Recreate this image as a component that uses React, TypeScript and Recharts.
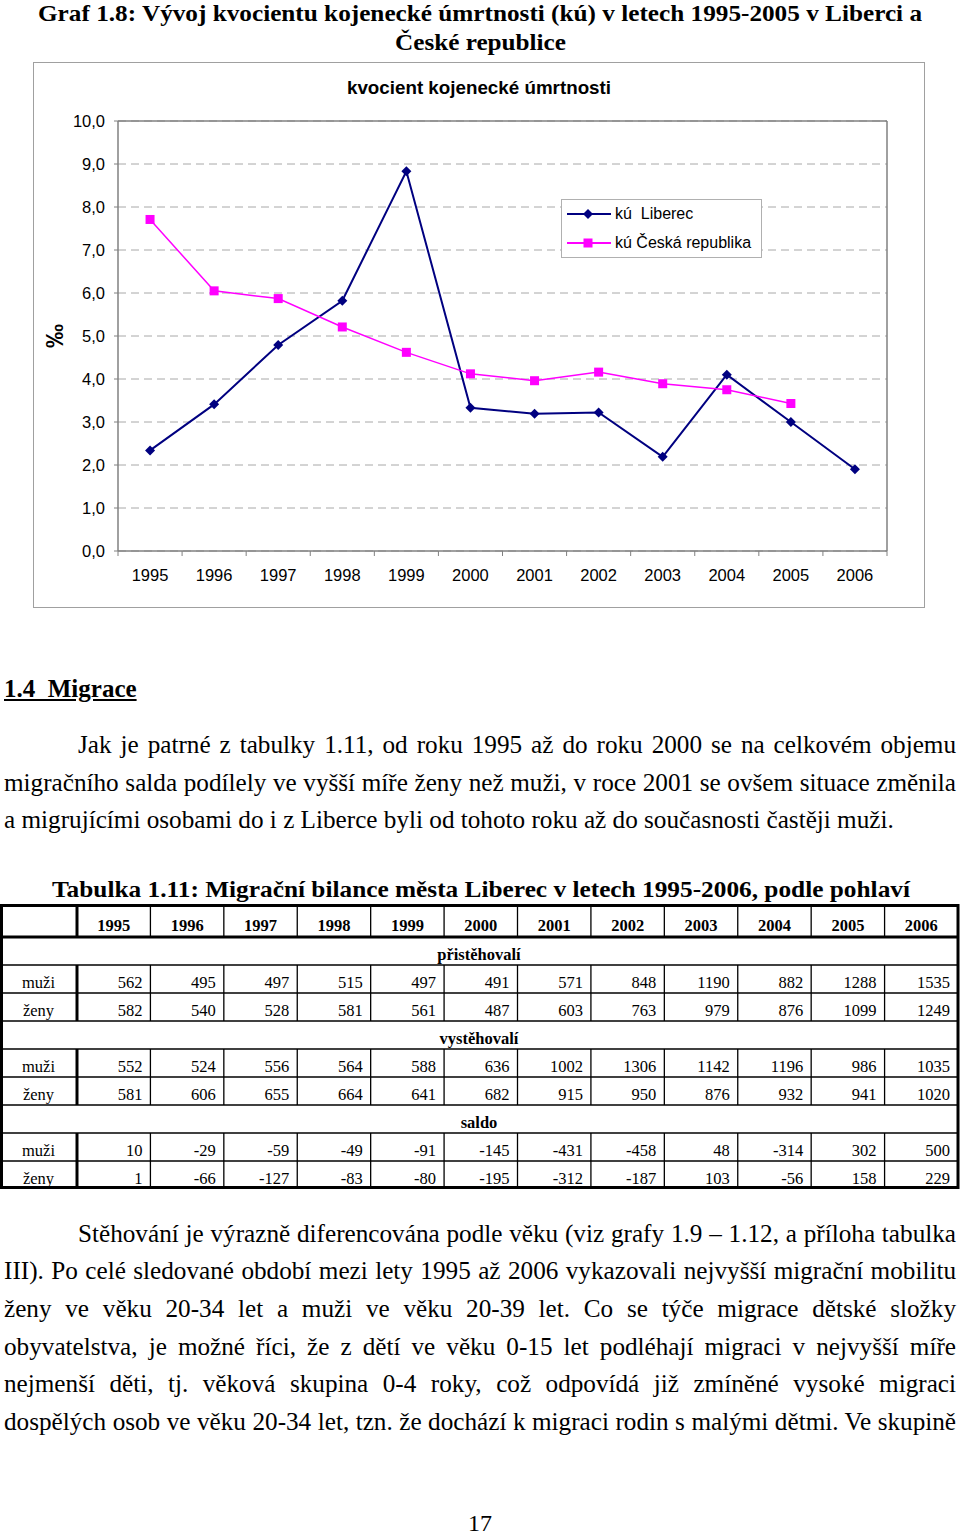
import React from "react";
import {
  LineChart,
  Line,
  XAxis,
  YAxis,
  CartesianGrid,
  Legend,
  ReferenceLine,
} from "recharts";

// --- chart data (kvocient kojenecké úmrtnosti, ‰) ---
const years = [1995, 1996, 1997, 1998, 1999, 2000, 2001, 2002, 2003, 2004, 2005, 2006];
const kuLiberec = [2.34, 3.41, 4.79, 5.82, 8.83, 3.33, 3.19, 3.22, 2.19, 4.1, 3.0, 1.9];
const kuCR = [7.71, 6.05, 5.87, 5.21, 4.62, 4.12, 3.96, 4.16, 3.89, 3.75, 3.43, null];
const yTicks = [0, 1, 2, 3, 4, 5, 6, 7, 8, 9, 10];

// --- table data (Tabulka 1.11) ---
const rowLabels = ["muži", "ženy"];
const sectionLabels = ["přistěhovalí", "vystěhovalí", "saldo"];
const pristMuzi = [562, 495, 497, 515, 497, 491, 571, 848, 1190, 882, 1288, 1535];
const pristZeny = [582, 540, 528, 581, 561, 487, 603, 763, 979, 876, 1099, 1249];
const vystMuzi = [552, 524, 556, 564, 588, 636, 1002, 1306, 1142, 1196, 986, 1035];
const vystZeny = [581, 606, 655, 664, 641, 682, 915, 950, 876, 932, 941, 1020];
const saldoMuzi = [10, -29, -59, -49, -91, -145, -431, -458, 48, -314, 302, 500];
const saldoZeny = [1, -66, -127, -83, -80, -195, -312, -187, 103, -56, 158, 229];

// --- page text ---
const heading = [
  "Graf 1.8: Vývoj kvocientu kojenecké úmrtnosti (kú) v letech 1995-2005 v Liberci a",
  "České republice",
];
const para1 = [
  "Jak je patrné z tabulky 1.11, od roku 1995 až do roku 2000 se na celkovém objemu",
  "migračního salda podílely ve vyšší míře ženy než muži, v roce 2001 se ovšem situace změnila",
  "a migrujícími osobami do i z Liberce byli od tohoto roku až do současnosti častěji muži.",
];
const para2 = [
  "Stěhování je výrazně diferencována podle věku (viz grafy 1.9 – 1.12, a příloha tabulka",
  "III). Po celé sledované období mezi lety 1995 až 2006 vykazovali nejvyšší migrační mobilitu",
  "ženy ve věku 20-34 let a muži ve věku 20-39 let. Co se týče migrace dětské složky",
  "obyvatelstva, je možné říci, že z dětí ve věku 0-15 let podléhají migraci v nejvyšší míře",
  "nejmenší děti, tj. věková skupina 0-4 roky, což odpovídá již zmíněné vysoké migraci",
  "dospělých osob ve věku 20-34 let, tzn. že dochází k migraci rodin s malými dětmi. Ve skupině",
];

const SERIF = '"Liberation Serif", "Times New Roman", serif';
const SANS = '"Liberation Sans", Arial, sans-serif';

const CHART_W = 892;
const CHART_H = 546;
const MARGIN = { top: 59, right: 38, left: 0, bottom: 0 };
const Y_W = 85;
const X_H = 57;
const BAND = (CHART_W - Y_W - MARGIN.right) / years.length;

const LIB_COLOR = "#000080";
const CR_COLOR = "#FF00FF";

const chartData = years.map((y, i) => ({ year: y, liberec: kuLiberec[i], cr: kuCR[i] }));

function YearTick(props: any) {
  const { x, y, payload, index } = props;
  const half = BAND / 2;
  return (
    <g>
      <line x1={x - half} x2={x - half} y1={y} y2={y + 5} stroke="#808080" />
      {index === years.length - 1 && (
        <line x1={x + half} x2={x + half} y1={y} y2={y + 5} stroke="#808080" />
      )}
      <text x={x} y={y + 30} textAnchor="middle" fontSize={16.5} fontFamily={SANS} fill="#000">
        {payload.value}
      </text>
    </g>
  );
}

function Diamond({ cx, cy }: any) {
  if (cx == null || cy == null) return null;
  const r = 5;
  return <path d={`M${cx},${cy - r}L${cx + r},${cy}L${cx},${cy + r}L${cx - r},${cy}Z`} fill={LIB_COLOR} />;
}

function Square({ cx, cy }: any) {
  if (cx == null || cy == null) return null;
  const s = 4.5;
  return <rect x={cx - s} y={cy - s} width={s * 2} height={s * 2} fill={CR_COLOR} />;
}

function KuLegend({ payload }: any) {
  const items = payload || [];
  return (
    <div
      style={{
        width: 201,
        height: 59,
        border: "1px solid #b0b0b0",
        boxSizing: "border-box",
        background: "#fff",
        position: "relative",
        fontFamily: SANS,
        fontSize: 16,
      }}
    >
      {items.map((it: any, i: number) => (
        <div key={it.value} style={{ position: "absolute", left: 0, top: 4 + i * 29.5, height: 20, width: 199 }}>
          <svg width={52} height={20} style={{ position: "absolute", left: 0, top: 0 }}>
            <line x1={5} x2={49} y1={10} y2={10} stroke={it.color} strokeWidth={2} />
            {it.dataKey === "liberec" ? <Diamond cx={26} cy={10} /> : <Square cx={26} cy={10} />}
          </svg>
          <span style={{ position: "absolute", left: 53, top: 0, lineHeight: "20px", whiteSpace: "pre" }}>
            {it.value}
          </span>
        </div>
      ))}
    </div>
  );
}

const BODY_FS = 25.2;

function TextLine({ left, width, baseline, text, justify }: any) {
  const fs = BODY_FS;
  return (
    <div
      style={{
        position: "absolute",
        left,
        top: baseline - 0.8375 * fs,
        width,
        fontFamily: SERIF,
        fontSize: fs,
        lineHeight: fs + "px",
        whiteSpace: "nowrap",
        textAlign: justify ? "justify" : "left",
        textAlignLast: justify ? "justify" : "auto",
        color: "#000",
      } as any}
    >
      {text}
    </div>
  );
}

function MigrationTable() {
  const top = 904;
  const headH = 33;
  const rowH = 28;
  const firstCol = 77;
  const right = 958;
  const colW = (right - firstCol) / years.length;
  const groups = [
    [pristMuzi, pristZeny],
    [vystMuzi, vystZeny],
    [saldoMuzi, saldoZeny],
  ];
  const bodyTop = top + headH;
  const bottom = bodyTop + rowH * 9;
  const els: any[] = [];
  // thin horizontal lines
  for (let r = 1; r < 9; r++) {
    const y = bodyTop + r * rowH;
    els.push(<line key={"h" + r} x1={0} x2={right} y1={y} y2={y} stroke="#000" strokeWidth={1.3} />);
  }
  // vertical segments: header + each data group
  const segs = [[top, bodyTop]];
  groups.forEach((_, g) => {
    const s = bodyTop + (g * 3 + 1) * rowH;
    segs.push([s, s + rowH * 2]);
  });
  segs.forEach(([y1, y2], si) => {
    els.push(<line key={"fc" + si} x1={firstCol} x2={firstCol} y1={y1} y2={y2} stroke="#000" strokeWidth={3} />);
    for (let c = 1; c < years.length; c++) {
      const x = firstCol + c * colW;
      els.push(<line key={"v" + si + "-" + c} x1={x} x2={x} y1={y1} y2={y2} stroke="#000" strokeWidth={1.3} />);
    }
  });
  els.push(<line key="hb" x1={0} x2={right} y1={bodyTop} y2={bodyTop} stroke="#000" strokeWidth={3} />);
  els.push(
    <rect key="outer" x={1.5} y={top + 1.5} width={right - 1.5} height={bottom - top - 3} fill="none" stroke="#000" strokeWidth={3} />
  );
  years.forEach((yr, c) => {
    els.push(
      <text key={"y" + yr} x={firstCol + (c + 0.5) * colW} y={top + headH - 6.5} textAnchor="middle" fontWeight="bold" fontSize={16.5}>
        {yr}
      </text>
    );
  });
  groups.forEach((rows, g) => {
    const secBottom = bodyTop + (g * 3 + 1) * rowH;
    els.push(
      <text key={"s" + g} x={479} y={secBottom - 5} textAnchor="middle" fontWeight="bold" fontSize={16.5}>
        {sectionLabels[g]}
      </text>
    );
    rows.forEach((vals, r) => {
      const yb = secBottom + (r + 1) * rowH - 5.5;
      els.push(
        <text key={"l" + g + r} x={38.5} y={yb} textAnchor="middle" fontSize={16.5}>
          {rowLabels[r]}
        </text>
      );
      vals.forEach((v, c) => {
        els.push(
          <text key={"d" + g + r + c} x={firstCol + (c + 1) * colW - 8} y={yb} textAnchor="end" fontSize={16.5}>
            {v}
          </text>
        );
      });
    });
  });
  return <g fontFamily={SERIF} fill="#000">{els}</g>;
}

export default function App() {
  return (
    <div
      style={{
        position: "absolute",
        left: 0,
        top: 0,
        width: 960,
        height: 1537,
        background: "#fff",
        overflow: "hidden",
        fontFamily: SERIF,
      }}
    >
      <svg width={960} height={1537} style={{ position: "absolute", left: 0, top: 0 }}>
        <text x={480} y={21} textAnchor="middle" fontFamily={SERIF} fontWeight="bold" fontSize={24} textLength={884} lengthAdjust="spacingAndGlyphs">
          {heading[0]}
        </text>
        <text x={480.5} y={49.5} textAnchor="middle" fontFamily={SERIF} fontWeight="bold" fontSize={24} textLength={171} lengthAdjust="spacingAndGlyphs">
          {heading[1]}
        </text>
        <text x={481} y={897} textAnchor="middle" fontFamily={SERIF} fontWeight="bold" fontSize={23} textLength={858} lengthAdjust="spacingAndGlyphs">
          Tabulka 1.11: Migrační bilance města Liberec v letech 1995-2006, podle pohlaví
        </text>
        <MigrationTable />
        <text x={480} y={1531} textAnchor="middle" fontFamily={SERIF} fontSize={24}>
          17
        </text>
      </svg>

      <div
        style={{
          position: "absolute",
          left: 4,
          top: 697 - 0.8375 * 25,
          fontFamily: SERIF,
          fontSize: 25,
          lineHeight: "25px",
          fontWeight: "bold",
          textDecoration: "underline",
          whiteSpace: "pre",
        }}
      >
        {"1.4  Migrace"}
      </div>

      {para1.map((t, i) => (
        <TextLine
          key={"p1" + i}
          left={i === 0 ? 78 : 4}
          width={i === 0 ? 878 : 952}
          baseline={753.5 + i * 37.5}
          text={t}
          justify={i < para1.length - 1}
        />
      ))}
      {para2.map((t, i) => (
        <TextLine
          key={"p2" + i}
          left={i === 0 ? 78 : 4}
          width={i === 0 ? 878 : 952}
          baseline={1242 + i * 37.6}
          text={t}
          justify={true}
        />
      ))}

      {/* chart frame */}
      <div
        style={{
          position: "absolute",
          left: 33,
          top: 62,
          width: CHART_W,
          height: CHART_H,
          border: "1px solid #a0a0a0",
          boxSizing: "border-box",
        }}
      />
      <div style={{ position: "absolute", left: 33, top: 62 }}>
        <LineChart width={CHART_W} height={CHART_H} data={chartData} margin={MARGIN}>
          <CartesianGrid vertical={false} stroke="#a8a8a8" strokeDasharray="8 5" />
          <XAxis
            type="number"
            dataKey="year"
            domain={[1994.5, 2006.5]}
            ticks={years}
            interval={0}
            height={X_H}
            tickLine={false}
            tickSize={0}
            tickMargin={0}
            axisLine={{ stroke: "#808080", strokeWidth: 1.5 }}
            tick={<YearTick />}
          />
          <YAxis
            type="number"
            domain={[0, 10]}
            ticks={yTicks}
            interval={0}
            width={Y_W}
            tickSize={4}
            tickMargin={9}
            tickLine={{ stroke: "#808080" }}
            axisLine={{ stroke: "#808080", strokeWidth: 1.5 }}
            tick={{ fill: "#000", fontSize: 16.5, fontFamily: SANS }}
            tickFormatter={(v: number) => v.toFixed(1).replace(".", ",")}
          />
          <ReferenceLine y={10} stroke="#808080" strokeWidth={1.5} />
          <ReferenceLine x={2006.5} stroke="#808080" strokeWidth={1.5} />
          <Legend
            verticalAlign="middle"
            layout="horizontal"
            content={<KuLegend />}
            wrapperStyle={{ left: 528, top: 136.5, width: 201, height: 59 }}
          />
          <Line
            type="linear"
            dataKey="liberec"
            name="kú  Liberec"
            stroke={LIB_COLOR}
            strokeWidth={2}
            dot={<Diamond />}
            activeDot={false}
            isAnimationActive={false}
          />
          <Line
            type="linear"
            dataKey="cr"
            name="kú Česká republika"
            stroke={CR_COLOR}
            strokeWidth={1.5}
            dot={<Square />}
            activeDot={false}
            isAnimationActive={false}
          />
        </LineChart>
      </div>

      <div
        style={{
          position: "absolute",
          left: 33,
          width: CHART_W,
          top: 87 - 9.3,
          textAlign: "center",
          fontFamily: SANS,
          fontWeight: "bold",
          fontSize: 18.8,
          lineHeight: "19px",
        }}
      >
        kvocient kojenecké úmrtnosti
      </div>
      <div
        style={{
          position: "absolute",
          left: 55 - 15,
          top: 336 - 12,
          width: 30,
          height: 24,
          lineHeight: "24px",
          textAlign: "center",
          transform: "rotate(-90deg)",
          fontFamily: SANS,
          fontWeight: "bold",
          fontSize: 24,
        }}
      >
        ‰
      </div>
    </div>
  );
}
